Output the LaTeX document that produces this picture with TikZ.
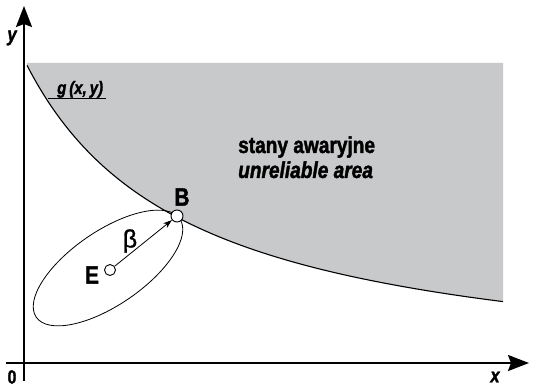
\documentclass[tikz,border=0pt]{standalone}
\usepackage{fontspec}
\setmainfont{Liberation Sans}
\newfontfamily\cond[FakeStretch=0.83,FakeBold=1.6]{Liberation Sans}
\newfontfamily\betafont[FakeBold=1.2]{Liberation Sans}
\usetikzlibrary{arrows.meta,shapes.geometric}
\definecolor{areagray}{RGB}{200,201,203}
\tikzset{
  axis/.style={line width=2pt,-{Stealth[length=21pt,width=16pt,inset=3pt]}},
  lbl/.style={inner sep=0pt,font=\cond\bfseries},
  pt/.style={circle,draw,fill=white,line width=0.9pt,inner sep=0pt},
}
\begin{document}
\begin{tikzpicture}[x=1pt,y=-1pt]
\useasboundingbox (0,0) rectangle (534,387);
% unreliable area
\fill[areagray] (27,63) -- plot[domain=27:503,samples=120,smooth] (\x,{382.8-52.282/((\x+136.5)*0.001)}) -- (503,63) -- cycle;
\draw[line width=1.1pt] plot[domain=27:503,samples=120,smooth] (\x,{382.8-52.282/((\x+136.5)*0.001)});
% g(x,y) label
\node[lbl,font=\cond\bfseries\itshape\fontsize{18}{20}\selectfont,anchor=base west] (g) at (57,94) {g\,(x,\,y)};
\draw[line width=1pt] (48,99) -- (106,99);
% area text
\node[lbl,font=\cond\bfseries\fontsize{23}{26}\selectfont,anchor=base west] (t1) at (238,153) {stany awaryjne};
\node[lbl,font=\cond\bfseries\itshape\fontsize{23}{26}\selectfont,anchor=base west] (t2) at (238,178) {unreliable area};
% axes
\coordinate (yb) at (24,381);
\coordinate (yt) at (24,6);
\coordinate (xl) at (6,363);
\coordinate (xr) at (529,363);
\draw[axis] (yb) -- (yt);
\draw[axis] (xl) -- (xr);
\node[lbl,font=\cond\bfseries\itshape\fontsize{20}{22}\selectfont] (ylab) at (12,38) {y};
\node[lbl,font=\cond\bfseries\itshape\fontsize{20}{22}\selectfont] (xlab) at (495,377) {x};
\node[lbl,font=\cond\bfseries\fontsize{19}{20}\selectfont] (zero) at (12,377) {0};
% ellipse
\node[ellipse,draw,line width=0.8pt,minimum width=174pt,minimum height=74pt,inner sep=0pt,rotate=34.4] (ell) at (108,268) {};
% points
\node[pt,minimum size=11pt] (E) at (110,270) {};
\node[pt,minimum size=12pt] (B) at (177,216) {};
\draw[line width=0.8pt,-{Stealth[length=9pt,width=6pt]}] (E) -- (B);
\node[lbl,font=\cond\bfseries\fontsize{25}{26}\selectfont] (Elab) at (92,275) {E};
\node[lbl,font=\cond\bfseries\fontsize{25}{26}\selectfont] (Blab) at (182,197) {B};
\node[inner sep=0pt,font=\betafont\fontsize{25}{28}\selectfont] (beta) at (130,241) {β};
\end{tikzpicture}
\end{document}
